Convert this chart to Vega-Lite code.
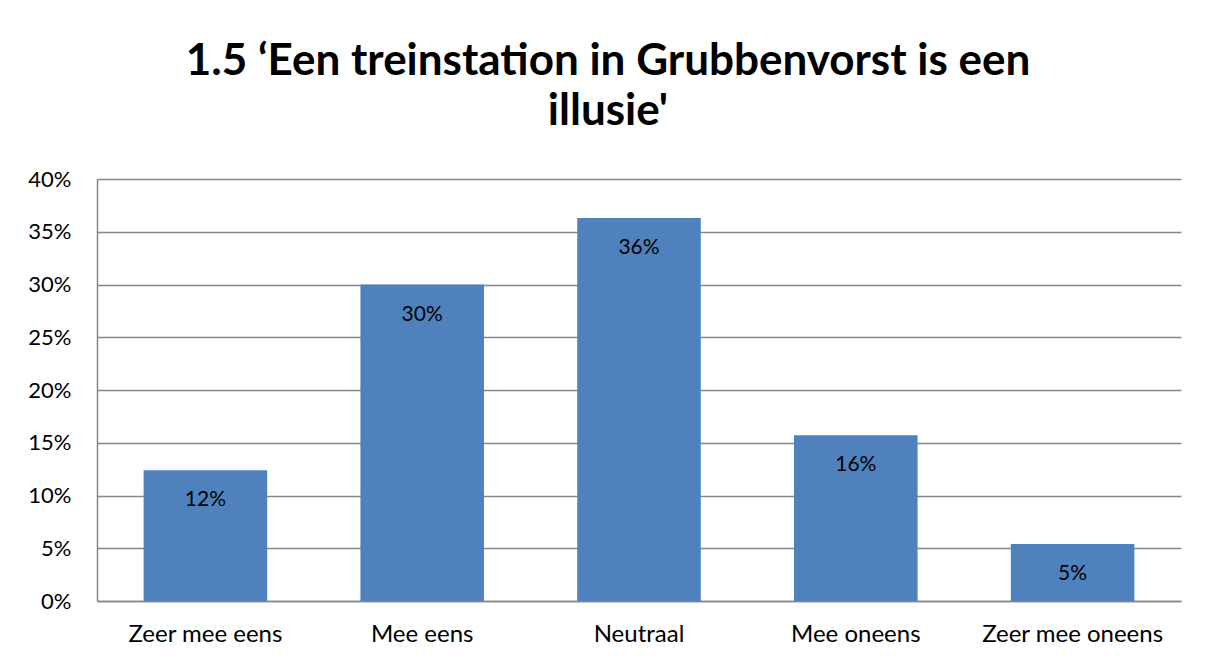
{
  "$schema": "https://vega.github.io/schema/vega-lite/v6.json",
  "width": 1084,
  "height": 422,
  "autosize": {"type": "none"},
  "padding": {"left": 97, "top": 179, "right": 27, "bottom": 60},
  "background": "white",
  "title": {
    "text": ["1.5 ‘Een treinstation in Grubbenvorst is een", "illusie'"],
    "font": "Lato",
    "fontSize": 44,
    "fontWeight": "bold",
    "color": "black",
    "lineHeight": 50,
    "anchor": "middle",
    "dx": -31,
    "offset": 34
  },
  "data": {
    "values": [
      {"categorie": "Zeer mee eens", "aandeel": 0.124},
      {"categorie": "Mee eens", "aandeel": 0.300},
      {"categorie": "Neutraal", "aandeel": 0.363},
      {"categorie": "Mee oneens", "aandeel": 0.157},
      {"categorie": "Zeer mee oneens", "aandeel": 0.054}
    ]
  },
  "encoding": {
    "x": {
      "field": "categorie",
      "type": "nominal",
      "sort": null,
      "scale": {"paddingInner": 0.43, "paddingOuter": 0.215},
      "axis": {
        "title": null,
        "labelAngle": 0,
        "labelLimit": 0,
        "labelOverlap": false,
        "ticks": false,
        "tickSize": 0,
        "labelPadding": 21,
        "labelFont": "Lato",
        "labelFontSize": 24,
        "labelColor": "black",
        "domainColor": "#868686",
        "domainWidth": 1.5
      }
    },
    "y": {
      "field": "aandeel",
      "type": "quantitative",
      "scale": {"domain": [0, 0.4]},
      "axis": {
        "title": null,
        "format": ".0%",
        "values": [0, 0.05, 0.1, 0.15, 0.2, 0.25, 0.3, 0.35, 0.4],
        "ticks": false,
        "tickSize": 0,
        "labelPadding": 26,
        "labelFont": "Lato",
        "labelFontSize": 22,
        "labelColor": "black",
        "gridColor": "#868686",
        "gridWidth": 1.5,
        "domainColor": "#868686",
        "domainWidth": 1.5
      }
    }
  },
  "layer": [
    {"mark": {"type": "bar", "color": "#4F81BD"}},
    {
      "mark": {"type": "text", "baseline": "middle", "dy": 30, "font": "Lato", "fontSize": 21, "color": "black"},
      "encoding": {"text": {"field": "aandeel", "type": "quantitative", "format": ".0%"}}
    }
  ],
  "config": {"view": {"stroke": null}}
}
